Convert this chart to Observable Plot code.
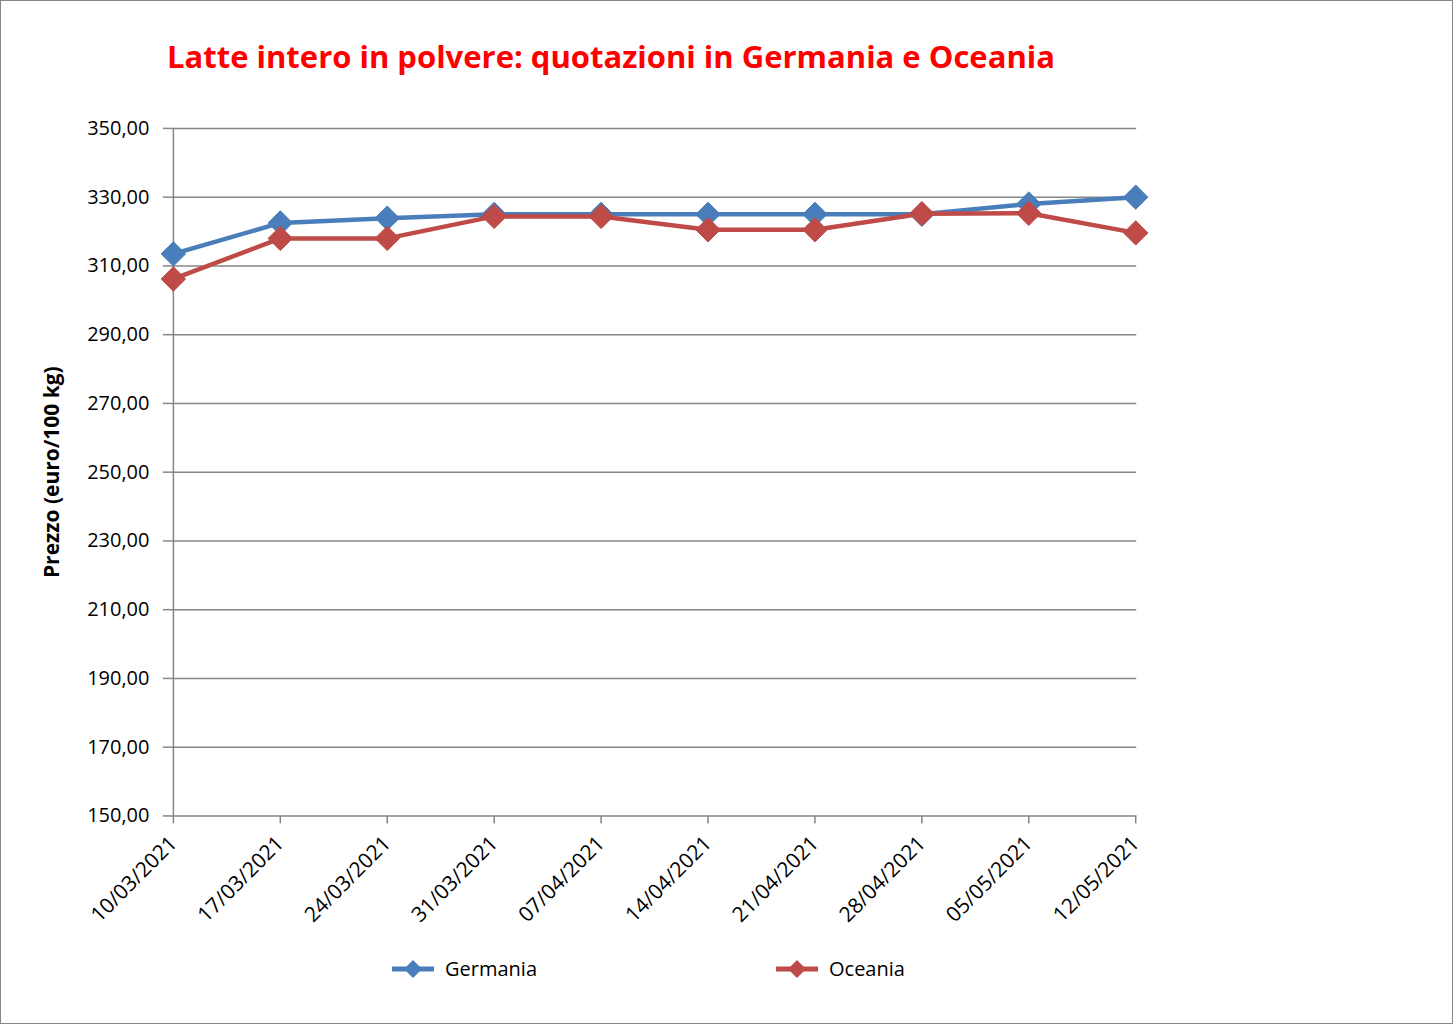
<!DOCTYPE html>
<html><head><meta charset="utf-8">
<script src="https://cdn.jsdelivr.net/npm/d3@7"></script>
<script src="https://cdn.jsdelivr.net/npm/@observablehq/plot@0.6"></script>
<style>
body{margin:0;background:#fff;}
#frame{position:relative;width:1453px;height:1024px;box-sizing:border-box;border:1px solid #868686;overflow:hidden;font-family:"Open Sans",sans-serif;background:#fff;}
#chart{position:absolute;left:-1px;top:-1px;}
#title{position:absolute;left:166px;top:34px;color:#ff0000;font-weight:bold;font-size:31px;white-space:nowrap;}
.leg{position:absolute;top:954px;display:flex;align-items:center;font-size:20px;color:#000;}
.leg svg{margin-right:11px;}
</style></head>
<body>
<div id="frame">
  <div id="chart"></div>
  <div id="title">Latte intero in polvere: quotazioni in Germania e Oceania</div>
  <div id="legend"></div>
</div>
<script>
const dates = ["10/03/2021","17/03/2021","24/03/2021","31/03/2021","07/04/2021","14/04/2021","21/04/2021","28/04/2021","05/05/2021","12/05/2021"];
const germania = [313.5, 322.5, 323.9, 325.0, 325.0, 325.0, 325.0, 325.0, 328.0, 330.0];
const oceania = [306.2, 318.0, 318.0, 324.4, 324.4, 320.5, 320.5, 325.2, 325.3, 319.6];
const yTicks = [150, 170, 190, 210, 230, 250, 270, 290, 310, 330, 350];
const seriesNames = ["Germania", "Oceania"];
const seriesColors = ["#4A7EBB", "#BE4B48"];

const gData = dates.map((d, i) => ({date: d, value: germania[i]}));
const oData = dates.map((d, i) => ({date: d, value: oceania[i]}));
const fmt = v => d3.format(".2f")(v).replace(".", ",");

const chart = Plot.plot({
  width: 1453,
  height: 1024,
  marginLeft: 171,
  marginRight: 316,
  marginTop: 128,
  marginBottom: 208,
  style: {fontFamily: "'Open Sans', sans-serif", fontSize: "20px", color: "#000", background: "transparent"},
  x: {type: "point", domain: dates, padding: 0},
  y: {domain: [150, 350]},
  marks: [
    Plot.ruleY(yTicks, {stroke: "#868686", strokeWidth: 1.5}),
    Plot.ruleX([dates[0]], {stroke: "#868686", strokeWidth: 1.5}),
    Plot.axisY({ticks: yTicks, tickFormat: fmt, tickSize: 8, tickPadding: 14, stroke: "#868686", strokeWidth: 1.5, label: null, fontSize: 20}),
    Plot.axisX({tickRotate: -45, tickSize: 8, tickPadding: 16, stroke: "#868686", strokeWidth: 1.5, label: null, fontSize: 21}),
    Plot.text(["Prezzo (euro/100 kg)"], {frameAnchor: "left", rotate: -90, dx: -119, textAnchor: "middle", fontWeight: "bold", fontSize: 21}),
    Plot.line(gData, {x: "date", y: "value", stroke: seriesColors[0], strokeWidth: 4.5}),
    Plot.dot(gData, {x: "date", y: "value", symbol: "diamond2", r: 11, fill: seriesColors[0], stroke: seriesColors[0], strokeWidth: 1}),
    Plot.line(oData, {x: "date", y: "value", stroke: seriesColors[1], strokeWidth: 4.5}),
    Plot.dot(oData, {x: "date", y: "value", symbol: "diamond2", r: 11, fill: seriesColors[1], stroke: seriesColors[1], strokeWidth: 1})
  ]
});
document.getElementById("chart").appendChild(chart);

const legendX = [391, 775];
const legend = document.getElementById("legend");
seriesNames.forEach((name, i) => {
  const div = document.createElement("div");
  div.className = "leg";
  div.style.left = legendX[i] + "px";
  div.innerHTML = `<svg width="42" height="26" viewBox="0 0 42 26"><line x1="0" y1="13" x2="42" y2="13" stroke="${seriesColors[i]}" stroke-width="5"/><path d="M21,4L30,13L21,22L12,13Z" fill="${seriesColors[i]}"/></svg><span>${name}</span>`;
  legend.appendChild(div);
});
</script>
</body></html>
